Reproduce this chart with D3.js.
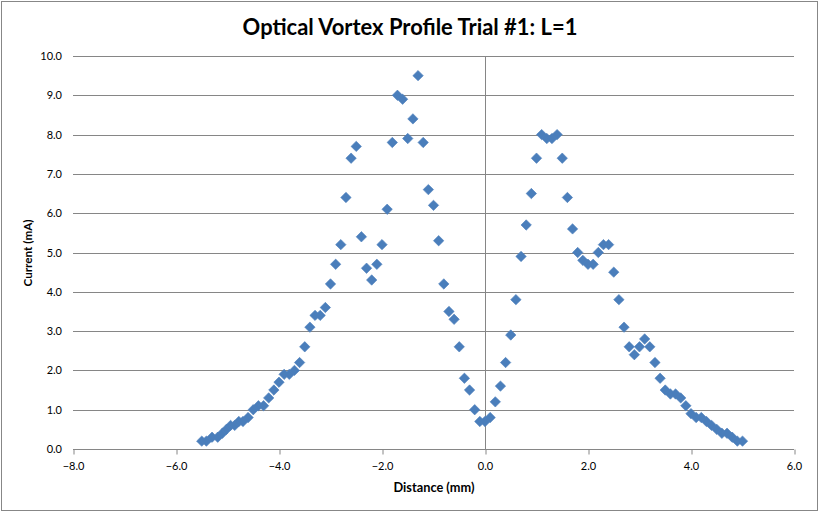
<!DOCTYPE html>
<html>
<head>
<meta charset="utf-8">
<script src="https://cdn.jsdelivr.net/npm/d3@7"></script>
<style>
  html, body { margin: 0; padding: 0; background: #ffffff; }
  svg { display: block; }
  text { font-family: Lato, "Open Sans", "DejaVu Sans", sans-serif; }
</style>
</head>
<body>
<svg id="chart" width="819" height="512"></svg>
<script>
// ---- data ----
const distance = [
  -5.50, -5.41, -5.30, -5.19, -5.10, -5.02, -4.94, -4.86, -4.78, -4.70,
  -4.6, -4.5, -4.4, -4.3, -4.2, -4.1, -4.0, -3.9, -3.8, -3.7, -3.6, -3.5, -3.4, -3.3, -3.2, -3.1,
  -3.0, -2.9, -2.8, -2.7, -2.6, -2.5, -2.4, -2.3, -2.2, -2.1, -2.0, -1.9, -1.8, -1.7, -1.6, -1.5,
  -1.4, -1.3, -1.2, -1.1, -1.0, -0.9, -0.8, -0.7, -0.6, -0.5, -0.4, -0.3, -0.2, -0.1,
  0.0, 0.1, 0.2, 0.3, 0.4, 0.5, 0.6, 0.7, 0.8, 0.9, 1.0, 1.1, 1.2, 1.3, 1.4, 1.5, 1.6, 1.7, 1.8, 1.9,
  2.0, 2.1, 2.2, 2.3, 2.4, 2.5, 2.6, 2.7, 2.8, 2.9, 3.0, 3.1, 3.2, 3.3, 3.4, 3.5, 3.6, 3.7, 3.8, 3.9,
  4.0, 4.1, 4.2, 4.3, 4.4, 4.5, 4.6, 4.7, 4.8, 4.9, 5.0
];
const current = [
  0.2, 0.2, 0.3, 0.3, 0.4, 0.5, 0.6, 0.6, 0.7, 0.7,
  0.8, 1.0, 1.1, 1.1, 1.3, 1.5, 1.7, 1.9, 1.9, 2.0, 2.2, 2.6, 3.1, 3.4, 3.4, 3.6,
  4.2, 4.7, 5.2, 6.4, 7.4, 7.7, 5.4, 4.6, 4.3, 4.7, 5.2, 6.1, 7.8, 9.0, 8.9, 7.9,
  8.4, 9.5, 7.8, 6.6, 6.2, 5.3, 4.2, 3.5, 3.3, 2.6, 1.8, 1.5, 1.0, 0.7,
  0.7, 0.8, 1.2, 1.6, 2.2, 2.9, 3.8, 4.9, 5.7, 6.5, 7.4, 8.0, 7.9, 7.9, 8.0, 7.4, 6.4, 5.6, 5.0, 4.8,
  4.7, 4.7, 5.0, 5.2, 5.2, 4.5, 3.8, 3.1, 2.6, 2.4, 2.6, 2.8, 2.6, 2.2, 1.8, 1.5, 1.4, 1.4, 1.3, 1.1,
  0.9, 0.8, 0.8, 0.7, 0.6, 0.5, 0.4, 0.4, 0.3, 0.2, 0.2
];
const xTicks = [-8, -6, -4, -2, 0, 2, 4, 6];
const yTicks = [0, 1, 2, 3, 4, 5, 6, 7, 8, 9, 10];
const titleText = "Optical Vortex Profile Trial #1: L=1";
const xLabel = "Distance (mm)";
const yLabel = "Current (mA)";

// ---- layout ----
const svg = d3.select("#chart");
const plot = { left: 73, right: 794, top: 56, bottom: 449 };
const gridColor = "#868686";
const markerColor = "#4A7EBB";

const x = d3.scaleLinear().domain([-8, 6]).range([plot.left, plot.right]);
const y = d3.scaleLinear().domain([0, 10]).range([plot.bottom, plot.top]);

function fitWidth(sel, base, target) {
  const w = sel.node().getComputedTextLength();
  sel.attr("font-size", base * target / w);
}

// outer border
svg.append("rect")
  .attr("x", 1.5).attr("y", 1.5).attr("width", 816).attr("height", 509)
  .attr("fill", "#fff").attr("stroke", "#878787").attr("stroke-width", 1);

// horizontal gridlines
svg.append("g")
  .selectAll("line")
  .data(yTicks.filter(d => d > 0))
  .join("line")
  .attr("x1", plot.left).attr("x2", plot.right)
  .attr("y1", d => Math.round(y(d)) + 0.5).attr("y2", d => Math.round(y(d)) + 0.5)
  .attr("stroke", gridColor).attr("stroke-width", 1);

// x axis (bottom)
const xAxis = d3.axisBottom(x).tickValues(xTicks).tickFormat(d3.format(".1f")).tickSize(5).tickPadding(8);
const gx = svg.append("g")
  .attr("transform", `translate(0,${Math.round(y(0)) + 0.5})`)
  .call(xAxis);
gx.select(".domain").attr("stroke", gridColor).attr("d", `M${plot.left},0H${plot.right}`);
gx.selectAll(".tick line").attr("stroke", gridColor).attr("transform", "translate(0.5,0)");
gx.selectAll(".tick text").attr("font-size", 11).attr("fill", "#000")
  .attr("font-family", "Lato, 'Open Sans', sans-serif");

// vertical axis line at x = 0
svg.append("line")
  .attr("x1", Math.round(x(0)) + 0.5).attr("x2", Math.round(x(0)) + 0.5)
  .attr("y1", plot.top).attr("y2", plot.bottom)
  .attr("stroke", gridColor).attr("stroke-width", 1);

// y tick labels (left)
const yAxis = d3.axisLeft(y).tickValues(yTicks).tickFormat(d3.format(".1f")).tickSize(0).tickPadding(11);
const gy = svg.append("g")
  .attr("transform", `translate(${plot.left},0)`)
  .call(yAxis);
gy.select(".domain").remove();
gy.selectAll(".tick text").attr("font-size", 11).attr("fill", "#000")
  .attr("font-family", "Lato, 'Open Sans', sans-serif");

// markers
const diamond = d3.symbol().type(d3.symbolSquare).size(54);
svg.append("g")
  .selectAll("path")
  .data(distance.map((d, i) => ({ x: d, y: current[i] })))
  .join("path")
  .attr("d", diamond)
  .attr("transform", d => `translate(${x(d.x)},${y(d.y)}) rotate(45)`)
  .attr("fill", markerColor)
  .attr("stroke", "#4F81BD")
  .attr("stroke-width", 0.6);

// title
const title = svg.append("text")
  .attr("x", 410).attr("y", 35)
  .attr("text-anchor", "middle")
  .attr("font-weight", "bold")
  .attr("font-size", 20)
  .attr("fill", "#000")
  .text(titleText);
fitWidth(title, 20, 335);

// axis titles
const xl = svg.append("text")
  .attr("x", 434).attr("y", 492)
  .attr("text-anchor", "middle")
  .attr("font-weight", "bold")
  .attr("font-size", 11)
  .attr("fill", "#000")
  .text(xLabel);
fitWidth(xl, 11, 81);

const yl = svg.append("text")
  .attr("transform", `translate(32,253) rotate(-90)`)
  .attr("text-anchor", "middle")
  .attr("font-weight", "bold")
  .attr("font-size", 11)
  .attr("fill", "#000")
  .text(yLabel);
fitWidth(yl, 11, 67);
</script>
</body>
</html>
